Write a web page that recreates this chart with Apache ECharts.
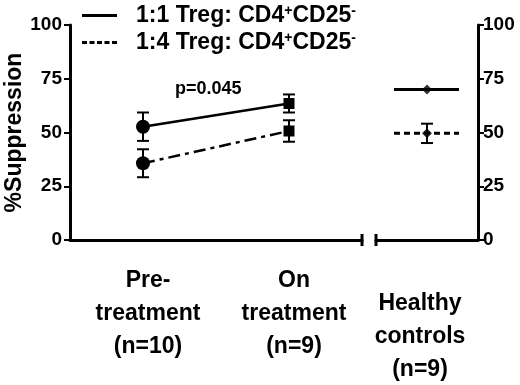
<!DOCTYPE html>
<html>
<head>
<meta charset="utf-8">
<script src="https://cdn.jsdelivr.net/npm/echarts@6/dist/echarts.min.js"></script>
<style>
html, body { margin: 0; padding: 0; background: #fff; }
#main { width: 520px; height: 385px; }
</style>
</head>
<body>
<div id="main"></div>
<script>
// 数据
var categories = ['Pre-\ntreatment\n(n=10)', 'On\ntreatment\n(n=9)'];
var controlCategory = ['Healthy\ncontrols\n(n=9)'];
var yTicks = [0, 25, 50, 75, 100];

var name11 = '1:1 Treg: CD4+CD25-';
var name14 = '1:4 Treg: CD4+CD25-';

var ratio11 = [52.7, 63.5];
var ratio11Sem = [6.6, 4.2];
var ratio14 = [35.7, 50.7];
var ratio14Sem = [6.5, 5.0];

var control11 = [70.0];
var control11Sem = [0];
var control14 = [49.6];
var control14Sem = [4.5];

var pText = 'p=0.045';

var font = '"Liberation Sans", Arial, sans-serif';
var myChart = echarts.init(document.getElementById('main'));

// 误差棒
function errorBars(name, grid, means, sems) {
	return {
		name: name,
		type: 'custom',
		xAxisIndex: grid,
		yAxisIndex: grid,
		z: 3,
		data: means.map(function (m, i) { return [i, m - sems[i], m + sems[i]]; }),
		encode: { x: 0, y: [1, 2] },
		renderItem: function (params, api) {
			var top = api.coord([api.value(0), api.value(2)]);
			var bot = api.coord([api.value(0), api.value(1)]);
			var w = 6;
			var st = { stroke: '#000', lineWidth: 2 };
			return {
				type: 'group',
				children: [
					{ type: 'line', shape: { x1: top[0], y1: top[1], x2: bot[0], y2: bot[1] }, style: st },
					{ type: 'line', shape: { x1: top[0] - w, y1: top[1], x2: top[0] + w, y2: top[1] }, style: st },
					{ type: 'line', shape: { x1: bot[0] - w, y1: bot[1], x2: bot[0] + w, y2: bot[1] }, style: st }
				]
			};
		}
	};
}

// 对照组的水平线段
function controlLine(name, means, dashed) {
	return {
		name: name,
		type: 'custom',
		xAxisIndex: 1,
		yAxisIndex: 1,
		z: 2,
		data: means.map(function (m, i) { return [i, m]; }),
		encode: { x: 0, y: 1 },
		renderItem: function (params, api) {
			var c = api.coord([api.value(0), api.value(1)]);
			return {
				type: 'line',
				shape: { x1: c[0] - 33, y1: c[1], x2: c[0] + 32, y2: c[1] },
				style: { stroke: '#000', lineWidth: 3, lineDash: dashed ? [6, 4] : null }
			};
		}
	};
}

function pairData(vals) {
	return vals.map(function (v, i) {
		return i === 0 ? { value: v, symbol: 'circle', symbolSize: 14 } : { value: v, symbol: 'rect', symbolSize: 11 };
	});
}

var legendRich = {
	b: { fontSize: 23, fontWeight: 'bold', fontFamily: font, color: '#000' },
	s: { fontSize: 14, fontWeight: 'bold', fontFamily: font, color: '#000', verticalAlign: 'top' }
};
function legendFmt(n) {
	var head = n.slice(0, n.indexOf('CD4') + 3);
	return '{b|' + head + '}{s|+}{b|CD25}{s|-}';
}
function legendBox(name, top, icon) {
	return {
		data: [{ name: name, icon: icon }],
		left: 82,
		top: top,
		itemWidth: 35,
		itemHeight: 3,
		padding: 0,
		selectedMode: false,
		formatter: legendFmt,
		textStyle: { padding: [0, 0, 0, 14], rich: legendRich }
	};
}

var axisLineStyle = { color: '#000', width: 3 };
var tickLabel = { color: '#000', fontSize: 19, fontWeight: 'bold', fontFamily: font };
var catLabel = { color: '#000', fontSize: 23, fontWeight: 'bold', fontFamily: font, lineHeight: 33 };

var option = {
	animation: false,
	backgroundColor: '#fff',
	legend: [
		legendBox(name11, 4, 'path://M0,0h35v3h-35z'),
		legendBox(name14, 31, 'path://M0,0h5v3h-5zM7.5,0h5v3h-5zM15,0h5v3h-5zM22.5,0h5v3h-5zM30,0h5v3h-5z')
	],
	grid: [
		{ left: 70, right: 158, top: 25, bottom: 145, outerBoundsMode: 'none', containLabel: false },
		{ left: 376, right: 42, top: 25, bottom: 145, outerBoundsMode: 'none', containLabel: false }
	],
	xAxis: [
		{
			gridIndex: 0, type: 'category', data: categories, boundaryGap: true,
			axisLine: { lineStyle: axisLineStyle },
			axisTick: { alignWithLabel: true, length: 6, lineStyle: { color: '#000', width: 2 } },
			axisLabel: Object.assign({ margin: 24, interval: 0, padding: [0, 0, 0, 10] }, catLabel)
		},
		{
			gridIndex: 1, type: 'category', data: controlCategory, boundaryGap: true,
			axisLine: { lineStyle: axisLineStyle },
			axisTick: { show: false },
			axisLabel: Object.assign({ margin: 47, interval: 0, padding: [0, 14, 0, 0] }, catLabel)
		}
	],
	yAxis: [
		{
			gridIndex: 0, type: 'value', min: yTicks[0], max: yTicks[yTicks.length - 1], interval: 25,
			name: '%Suppression', nameLocation: 'middle', nameRotate: 90, nameGap: 44, nameMoveOverlap: false,
			nameTextStyle: { color: '#000', fontSize: 23, fontWeight: 'bold', fontFamily: font },
			axisLine: { show: true, lineStyle: axisLineStyle },
			axisTick: { show: true, length: 6, lineStyle: { color: '#000', width: 2 } },
			axisLabel: Object.assign({ margin: 8 }, tickLabel),
			splitLine: { show: false }
		},
		{
			gridIndex: 1, type: 'value', position: 'right', min: yTicks[0], max: yTicks[yTicks.length - 1], interval: 25,
			axisLine: { show: true, lineStyle: axisLineStyle },
			axisTick: { show: true, length: 6, lineStyle: { color: '#000', width: 2 } },
			axisLabel: Object.assign({ margin: 5 }, tickLabel),
			splitLine: { show: false }
		}
	],
	graphic: [
		{ type: 'line', shape: { x1: 362, y1: 234, x2: 362, y2: 246 }, style: { stroke: '#000', lineWidth: 3 } },
		{ type: 'line', shape: { x1: 376, y1: 234, x2: 376, y2: 246 }, style: { stroke: '#000', lineWidth: 3 } },
		{
			type: 'text', left: 175, top: 80,
			style: { text: pText, fill: '#000', font: 'bold 18px ' + font }
		}
	],
	series: [
		{
			name: name11, type: 'line', xAxisIndex: 0, yAxisIndex: 0, z: 4,
			data: pairData(ratio11),
			itemStyle: { color: '#000' },
			lineStyle: { color: '#000', width: 2.5 }
		},
		{
			name: name14, type: 'line', xAxisIndex: 0, yAxisIndex: 0, z: 4,
			data: pairData(ratio14),
			itemStyle: { color: '#000' },
			lineStyle: { color: '#000', width: 2.5, type: [12, 5, 4, 5] }
		},
		errorBars('err11', 0, ratio11, ratio11Sem),
		errorBars('err14', 0, ratio14, ratio14Sem),
		controlLine('ctl11', control11, false),
		controlLine('ctl14', control14, true),
		errorBars('cerr14', 1, control14, control14Sem),
		{
			name: 'ctlMarks', type: 'scatter', xAxisIndex: 1, yAxisIndex: 1, z: 4,
			symbol: 'diamond', symbolSize: 10,
			itemStyle: { color: '#000' },
			data: [[0, control11[0]], [0, control14[0]]]
		}
	]
};

myChart.setOption(option);
</script>
</body>
</html>
